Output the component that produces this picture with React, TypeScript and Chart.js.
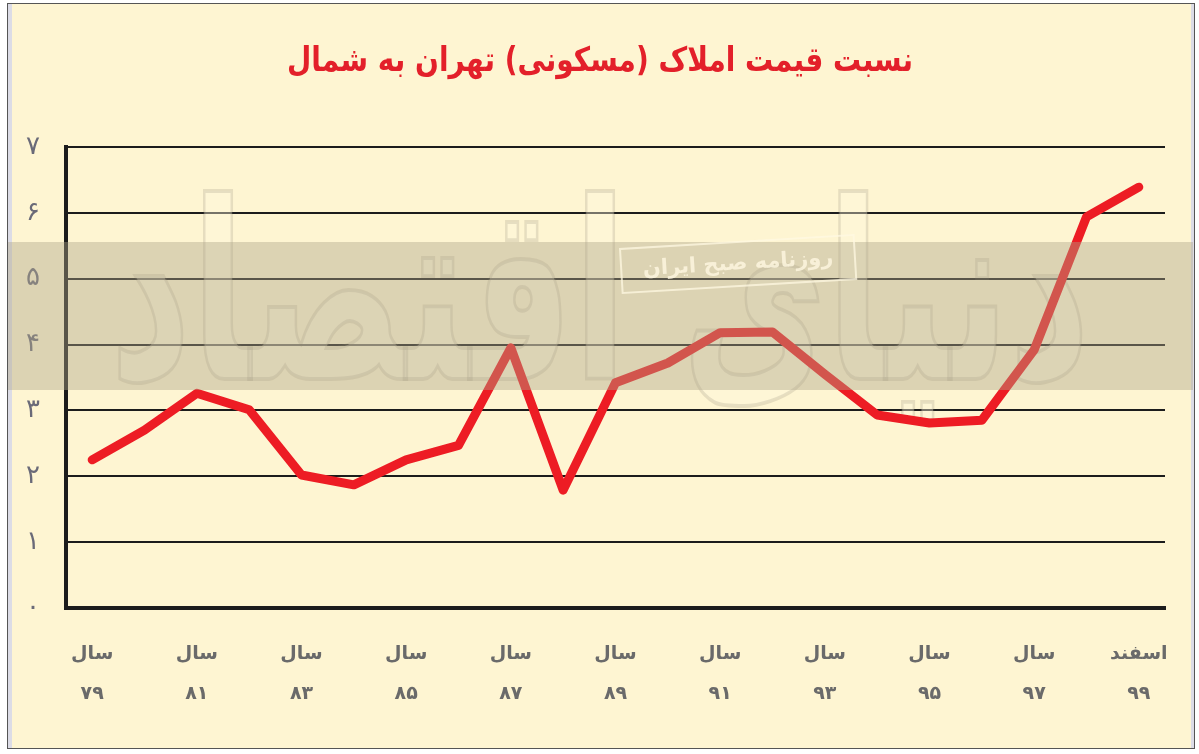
import React, { useEffect, useRef } from "react";
import { Chart, registerables } from "chart.js";

Chart.register(...registerables);

const years = ["۷۹", "۸۰", "۸۱", "۸۲", "۸۳", "۸۴", "۸۵", "۸۶", "۸۷", "۸۸", "۸۹", "۹۰", "۹۱", "۹۲", "۹۳", "۹۴", "۹۵", "۹۶", "۹۷", "۹۸", "۹۹"];
const values = [2.25, 2.7, 3.26, 3.01, 2.02, 1.87, 2.25, 2.47, 3.95, 1.79, 3.42, 3.72, 4.18, 4.19, 3.55, 2.93, 2.81, 2.85, 3.92, 5.94, 6.39];
const yTickLabels = ["۰", "۱", "۲", "۳", "۴", "۵", "۶", "۷"];
const yearWord = "سال";
const lastWord = "اسفند";
const titleText = "نسبت قیمت املاک (مسکونی) تهران به شمال";
const watermarkText = "دنیای اقتصاد";
const stampText = "روزنامه صبح ایران";

const FONT = "'DejaVu Sans', 'Noto Sans', sans-serif";
const CREAM = "#FEF5D2";

const decorPlugin = {
  id: "decor",
  beforeDraw(chart: any) {
    const ctx = chart.ctx;
    const W = chart.width;
    const H = chart.height;
    ctx.save();
    ctx.fillStyle = "#ffffff";
    ctx.fillRect(0, 0, W, H);
    ctx.fillStyle = CREAM;
    ctx.fillRect(8, 4, 1185, 744);
    ctx.fillStyle = "#dcdce6";
    ctx.fillRect(8, 4, 4, 744);
    ctx.fillRect(1191, 4, 3, 744);
    ctx.strokeStyle = "#555";
    ctx.lineWidth = 1;
    ctx.strokeRect(7.5, 3.5, 1187, 745);
    ctx.fillStyle = "#E3202A";
    ctx.font = "bold 28px " + FONT;
    ctx.textAlign = "center";
    ctx.textBaseline = "middle";
    ctx.direction = "rtl";
    ctx.translate(600, 62);
    ctx.scale(1, 1.2);
    ctx.fillText(titleText, 0, 0);
    ctx.restore();
  },
  beforeDatasetsDraw(chart: any) {
    const ctx = chart.ctx;
    ctx.save();
    ctx.font = "bold 190px " + FONT;
    ctx.direction = "rtl";
    ctx.textAlign = "center";
    ctx.textBaseline = "middle";
    const w = ctx.measureText(watermarkText).width;
    const sx = 980 / w;
    ctx.translate(600, 315);
    ctx.scale(sx, 1.3);
    ctx.fillStyle = "rgba(255,248,220,0.4)";
    ctx.fillText(watermarkText, 0, 0);
    ctx.strokeStyle = "rgba(120,115,100,0.18)";
    ctx.lineWidth = 3;
    ctx.strokeText(watermarkText, 0, 0);
    ctx.restore();
  },
  afterDatasetsDraw(chart: any) {
    const ctx = chart.ctx;
    ctx.save();
    ctx.fillStyle = "rgba(175,165,135,0.42)";
    ctx.fillRect(8, 242, 1185, 148);
    ctx.translate(738, 262);
    ctx.rotate(-0.06);
    ctx.strokeStyle = "rgba(255,248,225,0.75)";
    ctx.lineWidth = 2;
    ctx.strokeRect(-117, -20, 234, 44);
    ctx.fillStyle = "rgba(255,248,225,0.8)";
    ctx.font = "bold 21px " + FONT;
    ctx.direction = "rtl";
    ctx.textAlign = "center";
    ctx.textBaseline = "middle";
    ctx.fillText(stampText, 0, 2);
    ctx.restore();
  },
};

export default function App() {
  const ref = useRef<HTMLCanvasElement>(null);
  useEffect(() => {
    if (!ref.current) return;
    const chart = new Chart(ref.current, {
      type: "line",
      data: {
        labels: years,
        datasets: [
          {
            data: values,
            borderColor: "#ED1C24",
            borderWidth: 9,
            pointRadius: 0,
            tension: 0,
            borderJoinStyle: "round",
            borderCapStyle: "round",
            fill: false,
          },
        ],
      },
      options: {
        responsive: false,
        animation: false,
        layout: { padding: { top: 147, left: 7, right: 34, bottom: 6 } },
        plugins: {
          legend: { display: false },
          tooltip: { enabled: false },
          title: { display: false },
        },
        scales: {
          x: {
            type: "category",
            offset: true,
            grid: { display: false, drawTicks: false },
            border: { display: true, color: "#1c1c1c", width: 4 },
            afterFit: (s: any) => {
              s.height = 140;
            },
            ticks: {
              autoSkip: false,
              maxRotation: 0,
              minRotation: 0,
              padding: 26,
              color: "#6a6a6a",
              font: { family: FONT, size: 19, weight: "bold", lineHeight: 2.1 },
              callback: (_v: any, i: number) =>
                i % 2 === 0 ? [i === years.length - 1 ? lastWord : yearWord, years[i]] : "",
            },
          },
          y: {
            min: 0,
            max: 7,
            afterFit: (s: any) => {
              s.width = 59;
            },
            grid: { color: "#1c1c1c", lineWidth: 2, drawTicks: false },
            border: { display: true, color: "#1c1c1c", width: 4 },
            ticks: {
              stepSize: 1,
              padding: 26,
              crossAlign: "center",
              color: "#6a6a78",
              font: { family: FONT, size: 26 },
              callback: (v: any) => yTickLabels[Math.round(Number(v))] ?? "",
            },
          },
        },
      },
      plugins: [decorPlugin],
    } as any);
    return () => chart.destroy();
  }, []);
  return (
    <div style={{ position: "fixed", left: 0, top: 0, width: 1199, height: 754 }}>
      <canvas ref={ref} width={1199} height={754} style={{ display: "block" }} />
    </div>
  );
}
